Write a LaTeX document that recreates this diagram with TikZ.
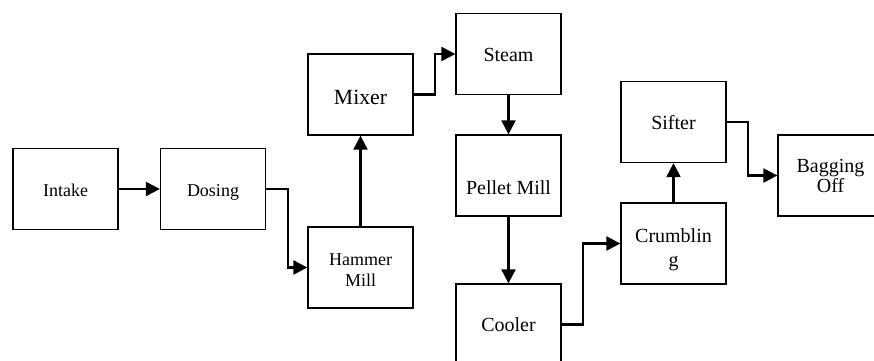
\documentclass[tikz,border=0pt]{standalone}
\usepackage{fontspec}
\setmainfont{Liberation Serif}
\usetikzlibrary{arrows.meta}
\begin{document}
\begin{tikzpicture}[x=1pt,y=1pt,
  stage/.style={draw, line width=1.3pt, minimum width=105pt, minimum height=81pt,
    inner sep=0pt, text height=14.5pt, text depth=0pt, font=\fontsize{20}{21}\selectfont},
  twoline/.style={align=center, text height=, text depth=},
  small/.style={font=\fontsize{18}{20.5}\selectfont, text height=15.5pt},
  flow/.style={line width=2.2pt, -{Triangle[length=14pt,width=14pt]}}]
\useasboundingbox (0,0) rectangle (874,-360);
\clip (0,0) rectangle (874,-360);

% process stages
\node[stage,small] (intake) at (65.5,-189) {Intake};
\node[stage,small] (dosing) at (213,-189) {Dosing};
\node[stage,small,twoline] (hammer) at (360.5,-267.5) {\rule{0pt}{17pt}Hammer\\Mill};
\node[stage,font=\fontsize{21.7}{24}\selectfont,text height=19.4pt] (mixer) at (360.5,-94.5) {Mixer};
\node[stage] (steam) at (508.5,-54) {Steam};
\node[stage,text height=37pt] (pellet) at (508.5,-175.5) {Pellet Mill};
\node[stage] (cooler) at (508.5,-324.5) {Cooler};
\node[stage,twoline] (crumb) at (673.5,-243.5) {\rule{0pt}{27pt}Crumblin\\[3pt]g};
\node[stage] (sifter) at (673.5,-122) {Sifter};
\node[stage,twoline] (bagging) at (830.5,-175.5) {Bagging\\[-1pt]Off};

% connectors
\draw[flow] (intake.east) -- (dosing.west);
\draw[flow] (dosing.east) -- ++(22,0) |- (hammer.west);
\draw[flow] (hammer.north) -- (mixer.south);
\draw[flow] (mixer.east) -- ++(21,0) |- (steam.west);
\draw[flow] (steam.south) -- (pellet.north);
\draw[flow] (pellet.south) -- (cooler.north);
\draw[flow] (cooler.east) -- ++(21,0) |- (crumb.west);
\draw[flow] (crumb.north) -- (sifter.south);
\draw[flow] (sifter.east) -- ++(21,0) |- (bagging.west);
\end{tikzpicture}
\end{document}
